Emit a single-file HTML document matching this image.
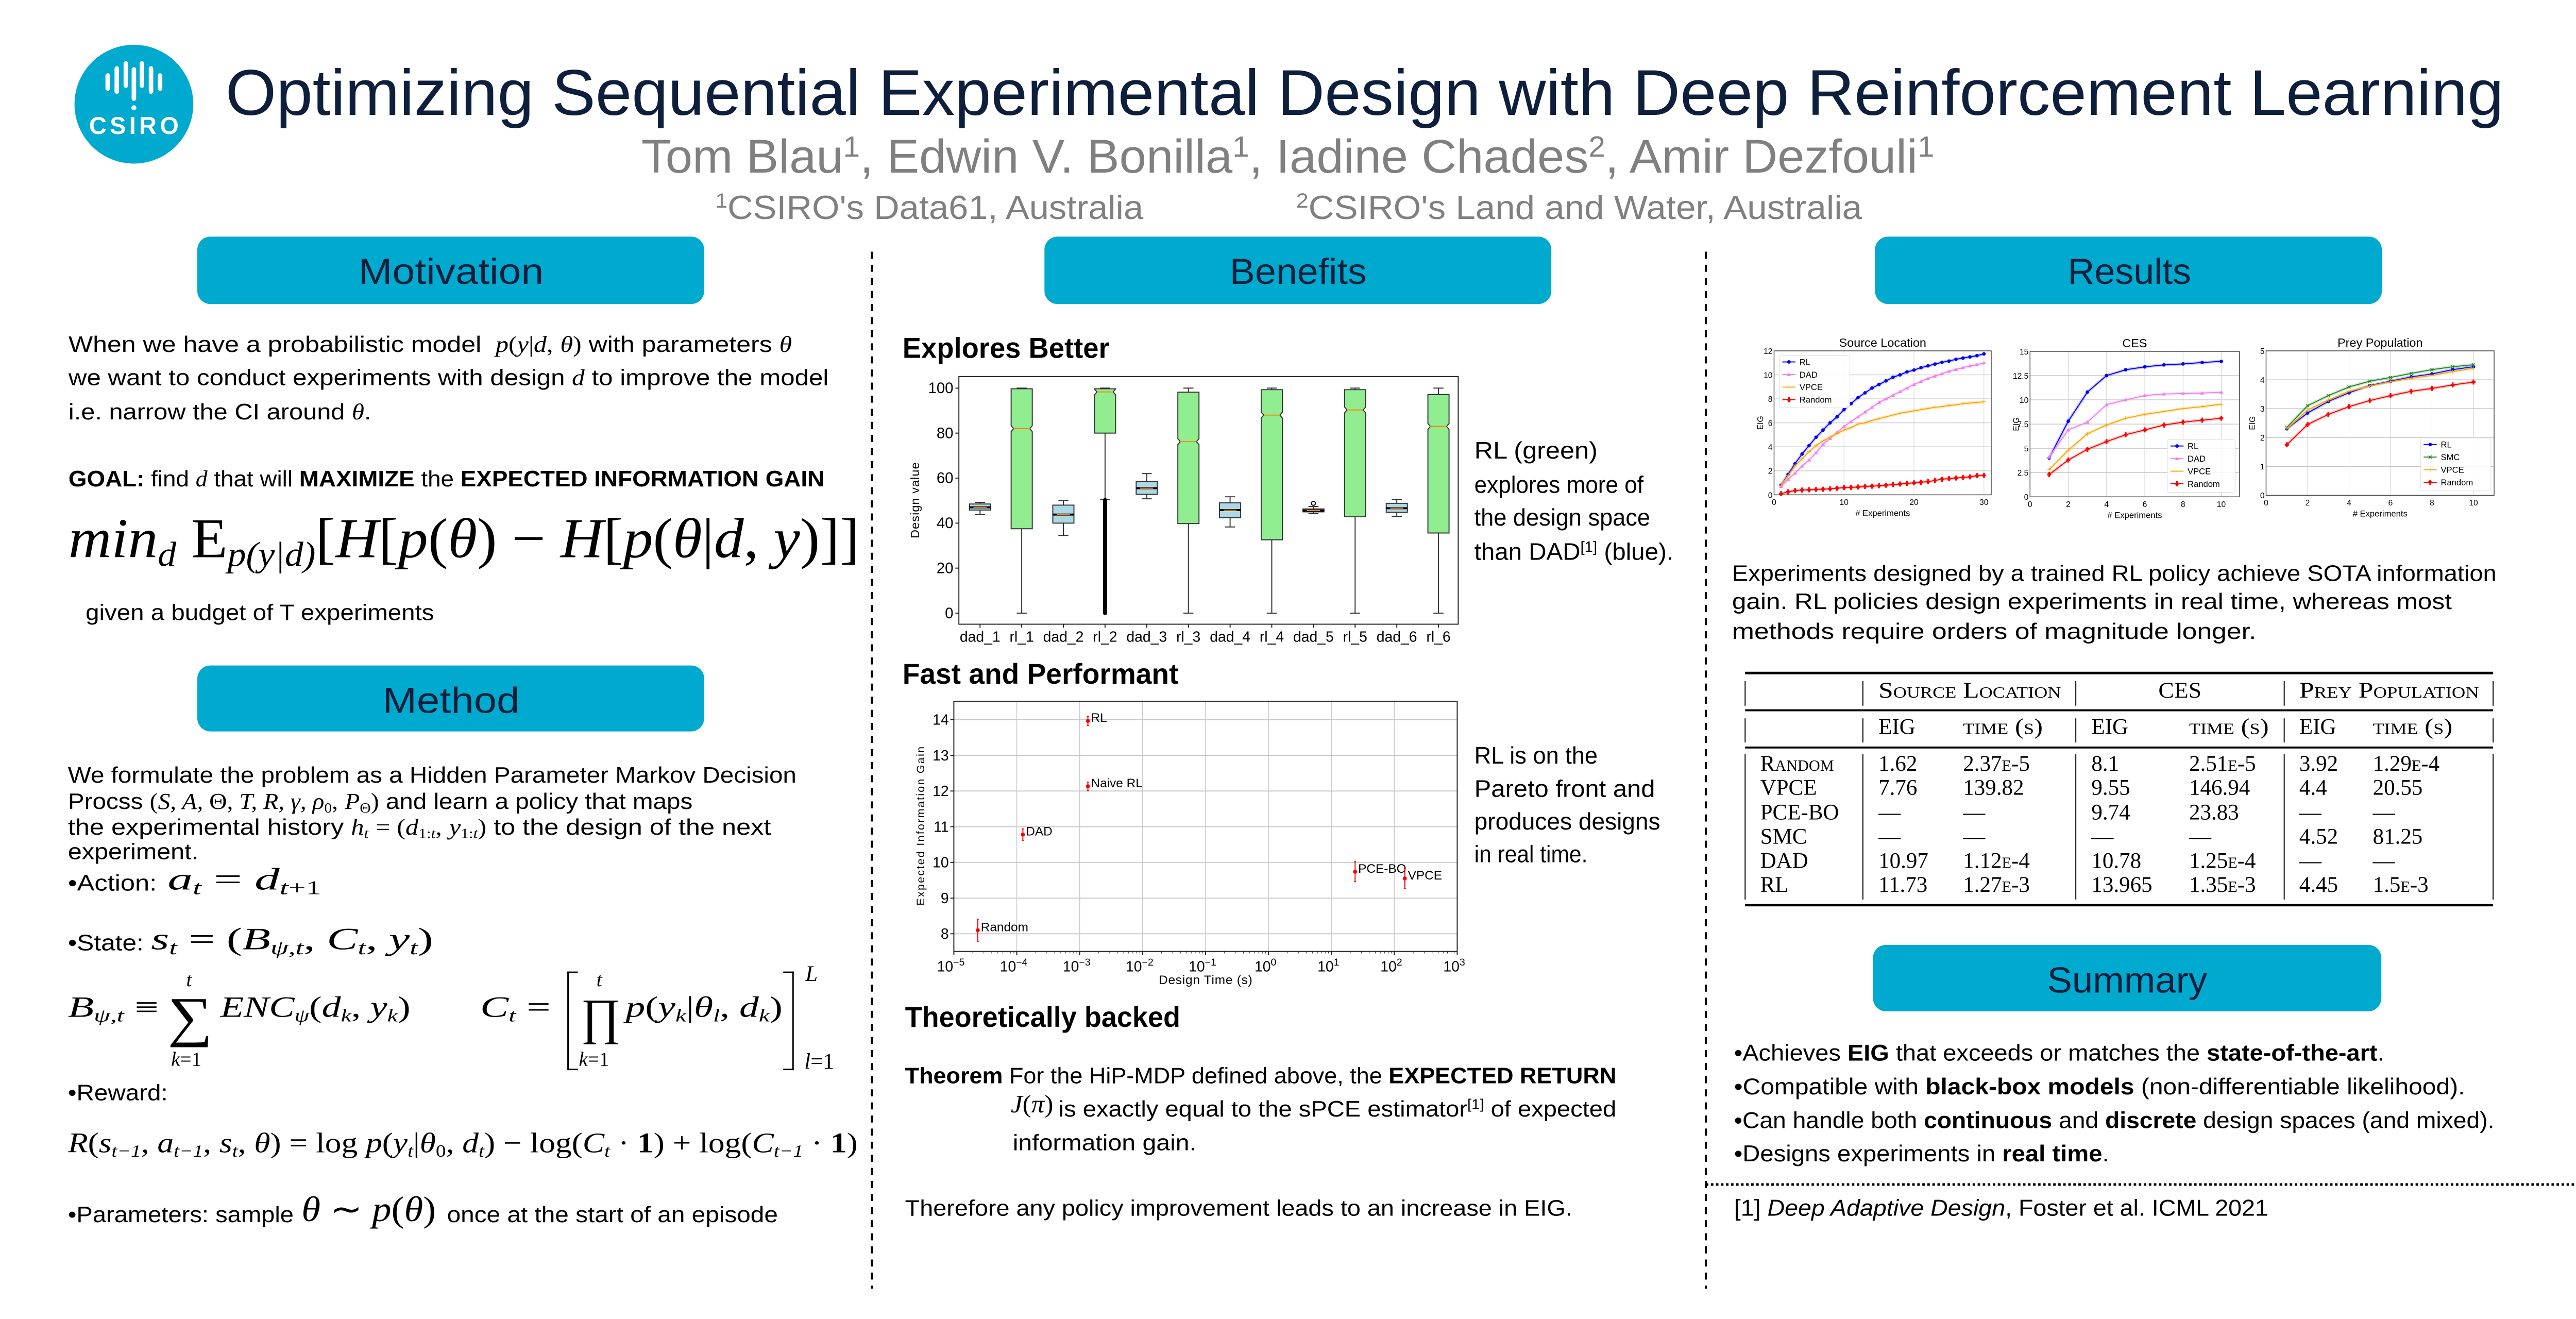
<!DOCTYPE html>
<html><head><meta charset="utf-8"><title>Optimizing Sequential Experimental Design with Deep Reinforcement Learning</title>
<style>
html,body{margin:0;padding:0;}
body{width:5120px;height:2560px;position:relative;overflow:hidden;background:#fff;font-family:"Liberation Sans",sans-serif;color:#000;}
#wrap{position:absolute;left:0;top:0;width:5120px;height:2560px;transform:scale(0.977);transform-origin:0 0;}
.t{position:absolute;white-space:nowrap;line-height:1;display:inline-block;transform-origin:0 0;}
.m{font-family:"Liberation Serif",serif;font-style:italic;}
.r{font-family:"Liberation Serif",serif;font-style:normal;}
.hdr{position:absolute;background:#00a9ce;border-radius:26px;}
.sc{font-variant:small-caps;}
sub{font-size:62%;vertical-align:-0.25em;line-height:0;}
sup{font-size:62%;vertical-align:0.55em;line-height:0;}
.tb{font-family:"Liberation Serif",serif;}
.brk{position:absolute;border:3px solid #000;}
</style></head>
<body>
<div id="wrap">

<svg width="5120" height="2560" style="position:absolute;left:0;top:0">
  <g>
    <circle cx="266" cy="207" r="118" fill="#00a9ce"/>
    <g stroke="#fff" stroke-width="9" stroke-linecap="round">
      <line x1="214" y1="150" x2="214" y2="176"/><line x1="232" y1="136" x2="232" y2="182"/>
      <line x1="250" y1="126" x2="250" y2="170"/><line x1="266" y1="138" x2="266" y2="196"/>
      <line x1="282" y1="126" x2="282" y2="170"/><line x1="300" y1="136" x2="300" y2="182"/>
      <line x1="318" y1="150" x2="318" y2="176"/>
    </g>
    <circle cx="266" cy="214" r="5" fill="#fff"/>
    <text x="266" y="266" font-family="Liberation Sans" font-weight="bold" font-size="48" fill="#fff" text-anchor="middle" textLength="178">CSIRO</text>
  </g>
  <g stroke="#000" stroke-width="4" stroke-dasharray="14 12">
    <line x1="1732" y1="500" x2="1732" y2="2640"/>
    <line x1="3389" y1="500" x2="3389" y2="2640"/>
  </g>
  <line x1="3389" y1="2353" x2="5300" y2="2353" stroke="#000" stroke-width="5" stroke-dasharray="5 5"/>
  <g stroke="#000">
    <line x1="3467" y1="1337" x2="4953" y2="1337" stroke-width="5"/>
    <line x1="3467" y1="1411" x2="4953" y2="1411" stroke-width="4"/>
    <line x1="3467" y1="1485" x2="4953" y2="1485" stroke-width="4"/>
    <line x1="3467" y1="1798" x2="4953" y2="1798" stroke-width="5"/>
    <g stroke-width="2">
      <line x1="3467" y1="1353" x2="3467" y2="1402"/><line x1="3701" y1="1353" x2="3701" y2="1402"/><line x1="4124" y1="1353" x2="4124" y2="1402"/><line x1="4538" y1="1353" x2="4538" y2="1402"/><line x1="4953" y1="1353" x2="4953" y2="1402"/>
      <line x1="3467" y1="1427" x2="3467" y2="1475"/><line x1="3701" y1="1427" x2="3701" y2="1475"/><line x1="4124" y1="1427" x2="4124" y2="1475"/><line x1="4538" y1="1427" x2="4538" y2="1475"/><line x1="4953" y1="1427" x2="4953" y2="1475"/>
      <line x1="3467" y1="1498" x2="3467" y2="1787"/><line x1="3701" y1="1498" x2="3701" y2="1787"/><line x1="4124" y1="1498" x2="4124" y2="1787"/><line x1="4538" y1="1498" x2="4538" y2="1787"/><line x1="4953" y1="1498" x2="4953" y2="1787"/>
    </g>
  </g>
  <g id="boxplot"></g>
  <g id="pareto"></g>
  <g id="res1"></g>
  <g id="res2"></g>
  <g id="res3"></g>
</svg>

<!-- header -->
<div class="t" style="left:448px;font-size:128px;color:#0d1f3c" data-w="4526" data-b="230">Optimizing Sequential Experimental Design with Deep Reinforcement Learning</div>
<div class="t" style="left:1274px;font-size:94px;color:#808080" data-w="2569" data-b="344">Tom Blau<sup>1</sup>, Edwin V. Bonilla<sup>1</sup>, Iadine Chades<sup>2</sup>, Amir Dezfouli<sup>1</sup></div>
<div class="t" style="left:1421px;font-size:66px;color:#808080" data-w="850" data-b="435"><sup>1</sup>CSIRO's Data61, Australia</div>
<div class="t" style="left:2575px;font-size:66px;color:#808080" data-w="1124" data-b="435"><sup>2</sup>CSIRO's Land and Water, Australia</div>

<!-- section headers -->
<div class="hdr" style="left:392px;top:470px;width:1007px;height:134px"></div>
<div class="t" style="left:712px;font-size:72px;color:#0d1f3c" data-w="368" data-b="565">Motivation</div>
<div class="hdr" style="left:2075px;top:470px;width:1007px;height:134px"></div>
<div class="t" style="left:2443px;font-size:72px;color:#0d1f3c" data-w="272" data-b="565">Benefits</div>
<div class="hdr" style="left:3725px;top:470px;width:1007px;height:134px"></div>
<div class="t" style="left:4108px;font-size:72px;color:#0d1f3c" data-w="245" data-b="565">Results</div>
<div class="hdr" style="left:392px;top:1322px;width:1007px;height:131px"></div>
<div class="t" style="left:760px;font-size:72px;color:#0d1f3c" data-w="272" data-b="1417">Method</div>
<div class="hdr" style="left:3721px;top:1877px;width:1010px;height:132px"></div>
<div class="t" style="left:4067px;font-size:72px;color:#0d1f3c" data-w="318" data-b="1973">Summary</div>

<!-- motivation -->
<div class="t" style="left:136px;font-size:45px" data-w="1438" data-b="699">When we have a probabilistic model &nbsp;<span class="m">p</span><span class="r">(</span><span class="m">y</span><span class="r">|</span><span class="m">d</span><span class="r">,</span> <span class="m">θ</span><span class="r">)</span> with parameters <span class="m">θ</span></div>
<div class="t" style="left:136px;font-size:45px" data-w="1510" data-b="765">we want to conduct experiments with design <span class="m">d</span> to improve the model</div>
<div class="t" style="left:136px;font-size:45px" data-w="601" data-b="833">i.e. narrow the CI around <span class="m">θ</span>.</div>
<div class="t" style="left:136px;font-size:45px" data-w="1502" data-b="966"><b>GOAL:</b> find <span class="m">d</span> that will <b>MAXIMIZE</b> the <b>EXPECTED INFORMATION GAIN</b></div>
<div class="t m" style="left:136px;font-size:112px" data-w="1572" data-b="1109">min<sub>d</sub> <span class="r">E</span><sub>p(y|d)</sub><span class="r">[</span>H<span class="r">[</span>p<span class="r">(</span>θ<span class="r">) − </span>H<span class="r">[</span>p<span class="r">(</span>θ<span class="r">|</span>d<span class="r">,</span> y<span class="r">)]]</span></div>
<div class="t" style="left:170px;font-size:45px" data-w="692" data-b="1232">given a budget of T experiments</div>

<!-- method -->
<div class="t" style="left:135px;font-size:45px" data-w="1447" data-b="1555">We formulate the problem as a Hidden Parameter Markov Decision</div>
<div class="t" style="left:135px;font-size:45px" data-w="1241" data-b="1607">Procss <span class="r">(</span><span class="m">S, A, </span><span class="r">Θ, </span><span class="m">T, R, γ, ρ</span><sub class="r">0</sub><span class="r">,</span> <span class="m">P</span><sub class="r">Θ</sub><span class="r">)</span> and learn a policy that maps</div>
<div class="t" style="left:135px;font-size:45px" data-w="1397" data-b="1658">the experimental history <span class="m">h<sub>t</sub></span> <span class="r">= (</span><span class="m">d</span><sub class="r">1:<i>t</i></sub><span class="r">,</span> <span class="m">y</span><sub class="r">1:<i>t</i></sub><span class="r">)</span> to the design of the next</div>
<div class="t" style="left:135px;font-size:45px" data-w="259" data-b="1707">experiment.</div>
<div class="t" style="left:135px;font-size:45px" data-w="176" data-b="1769">•Action:</div>
<div class="t m" style="left:333px;font-size:62px" data-w="305" data-b="1769">a<sub>t</sub> <span class="r">=</span> d<sub>t<span class="r">+1</span></sub></div>
<div class="t" style="left:135px;font-size:45px" data-w="150" data-b="1888">•State:</div>
<div class="t m" style="left:300px;font-size:62px" data-w="560" data-b="1888">s<sub>t</sub> <span class="r">= (</span>B<sub>ψ,t</sub><span class="r">,</span> C<sub>t</sub><span class="r">,</span> y<sub>t</sub><span class="r">)</span></div>
<div class="t m" style="left:135px;font-size:58px" data-w="180" data-b="2021">B<sub>ψ,t</sub> <span class="r">≡</span></div>
<div class="t r" style="left:333px;font-size:110px" data-w="89" data-b="2058">∑</div>
<div class="t m" style="left:370px;font-size:40px" data-b="1960">t</div>
<div class="t m" style="left:340px;font-size:40px" data-b="2118">k<span class="r">=1</span></div>
<div class="t m" style="left:438px;font-size:58px" data-w="378" data-b="2021">ENC<sub>ψ</sub><span class="r">(</span>d<sub>k</sub><span class="r">,</span> y<sub>k</sub><span class="r">)</span></div>
<div class="t m" style="left:954px;font-size:58px" data-w="140" data-b="2021">C<sub>t</sub> <span class="r">=</span></div>
<div class="brk" style="left:1127px;top:1930px;width:18px;height:190px;border-right:none"></div>
<div class="t r" style="left:1154px;font-size:100px" data-w="78" data-b="2055">∏</div>
<div class="t m" style="left:1185px;font-size:40px" data-b="1960">t</div>
<div class="t m" style="left:1150px;font-size:40px" data-b="2118">k<span class="r">=1</span></div>
<div class="t m" style="left:1243px;font-size:58px" data-w="311" data-b="2021">p<span class="r">(</span>y<sub>k</sub><span class="r">|</span>θ<sub>l</sub><span class="r">,</span> d<sub>k</sub><span class="r">)</span></div>
<div class="brk" style="left:1556px;top:1930px;width:18px;height:190px;border-left:none"></div>
<div class="t m" style="left:1600px;font-size:44px" data-b="1950">L</div>
<div class="t m" style="left:1598px;font-size:44px" data-b="2124">l<span class="r">=1</span></div>
<div class="t" style="left:135px;font-size:45px" data-w="198" data-b="2186">•Reward:</div>
<div class="t m" style="left:135px;font-size:56px" data-w="1569" data-b="2291">R<span class="r">(</span>s<sub>t−1</sub><span class="r">,</span> a<sub>t−1</sub><span class="r">,</span> s<sub>t</sub><span class="r">,</span> θ<span class="r">) = log </span>p<span class="r">(</span>y<sub>t</sub><span class="r">|</span>θ<sub class="r">0</sub><span class="r">,</span> d<sub>t</sub><span class="r">) − log(</span>C<sub>t</sub><span class="r"> · <b>1</b>) + log(</span>C<sub>t−1</sub><span class="r"> · <b>1</b>)</span></div>
<div class="t" style="left:135px;font-size:45px" data-w="448" data-b="2428">•Parameters: sample</div>
<div class="t m" style="left:599px;font-size:70px" data-w="267" data-b="2428">θ <span class="r">∼</span> p<span class="r">(</span>θ<span class="r">)</span></div>
<div class="t" style="left:888px;font-size:45px" data-w="657" data-b="2428">once at the start of an episode</div>

<!-- benefits -->
<div class="t" style="left:1793px;font-size:57px;font-weight:bold" data-w="411" data-b="712">Explores Better</div>
<div class="t" style="left:2929px;font-size:47px" data-w="245" data-b="911">RL (green)</div>
<div class="t" style="left:2929px;font-size:47px" data-w="336" data-b="979">explores more of</div>
<div class="t" style="left:2929px;font-size:47px" data-w="349" data-b="1044">the design space</div>
<div class="t" style="left:2929px;font-size:47px" data-w="395" data-b="1112">than DAD<sup>[1]</sup> (blue).</div>
<div class="t" style="left:1793px;font-size:57px;font-weight:bold" data-w="548" data-b="1359">Fast and Performant</div>
<div class="t" style="left:2929px;font-size:47px" data-w="245" data-b="1517">RL is on the</div>
<div class="t" style="left:2929px;font-size:47px" data-w="359" data-b="1583">Pareto front and</div>
<div class="t" style="left:2929px;font-size:47px" data-w="369" data-b="1648">produces designs</div>
<div class="t" style="left:2929px;font-size:47px" data-w="225" data-b="1713">in real time.</div>
<div class="t" style="left:1798px;font-size:57px;font-weight:bold" data-w="547" data-b="2041">Theoretically backed</div>
<div class="t" style="left:1798px;font-size:45px" data-w="1413" data-b="2152"><b>Theorem</b> For the HiP-MDP defined above, the <b>EXPECTED RETURN</b></div>
<div class="t m" style="left:2008px;font-size:50px" data-w="85" data-b="2210">J<span class="r">(</span>π<span class="r">)</span></div>
<div class="t" style="left:2103px;font-size:45px" data-w="1108" data-b="2218">is exactly equal to the sPCE estimator<sup>[1]</sup> of expected</div>
<div class="t" style="left:2012px;font-size:45px" data-w="365" data-b="2285">information gain.</div>
<div class="t" style="left:1798px;font-size:45px" data-w="1326" data-b="2415">Therefore any policy improvement leads to an increase in EIG.</div>

<!-- results -->
<div class="t" style="left:3441px;font-size:45px" data-w="1519" data-b="1154">Experiments designed by a trained RL policy achieve SOTA information</div>
<div class="t" style="left:3441px;font-size:45px" data-w="1430" data-b="1210">gain. RL policies design experiments in real time, whereas most</div>
<div class="t" style="left:3441px;font-size:45px" data-w="1042" data-b="1269">methods require orders of magnitude longer.</div>

<!-- table -->
<div class="t tb sc" style="left:3732px;font-size:44px" data-w="362" data-b="1387">Source Location</div>
<div class="t tb" style="left:4288px;font-size:44px" data-w="86" data-b="1387">CES</div>
<div class="t tb sc" style="left:4568px;font-size:44px" data-w="357" data-b="1387">Prey Population</div>
<div class="t tb" style="left:3732px;font-size:44px" data-b="1459">EIG</div>
<div class="t tb sc" style="left:3900px;font-size:44px" data-w="158" data-b="1459">time (s)</div>
<div class="t tb" style="left:4155px;font-size:44px" data-b="1459">EIG</div>
<div class="t tb sc" style="left:4349px;font-size:44px" data-w="158" data-b="1459">time (s)</div>
<div class="t tb" style="left:4568px;font-size:44px" data-b="1459">EIG</div>
<div class="t tb sc" style="left:4714px;font-size:44px" data-w="158" data-b="1459">time (s)</div>
<div id="tbody"></div>

<!-- summary -->
<div class="t" style="left:3445px;font-size:46px" data-w="1292" data-b="2107">•Achieves <b>EIG</b> that exceeds or matches the <b>state-of-the-art</b>.</div>
<div class="t" style="left:3445px;font-size:46px" data-w="1452" data-b="2174">•Compatible with <b>black-box models</b> (non-differentiable likelihood).</div>
<div class="t" style="left:3445px;font-size:46px" data-w="1510" data-b="2241">•Can handle both <b>continuous</b> and <b>discrete</b> design spaces (and mixed).</div>
<div class="t" style="left:3445px;font-size:46px" data-w="745" data-b="2307">•Designs experiments in <b>real time</b>.</div>
<div class="t" style="left:3445px;font-size:46px" data-w="1062" data-b="2415">[1] <i>Deep Adaptive Design</i>, Foster et al. ICML 2021</div>
</div>

<script>
// ---------- table data ----------
const tableMethods = ['Random','VPCE','PCE-BO','SMC','DAD','RL'];
const tableCells = [
  ['1.62','2.37e-5','8.1','2.51e-5','3.92','1.29e-4'],
  ['7.76','139.82','9.55','146.94','4.4','20.55'],
  ['—','—','9.74','23.83','—','—'],
  ['—','—','—','—','4.52','81.25'],
  ['10.97','1.12e-4','10.78','1.25e-4','—','—'],
  ['11.73','1.27e-3','13.965','1.35e-3','4.45','1.5e-3']
];
// ---------- boxplot data ----------
const boxCats = ['dad_1','rl_1','dad_2','rl_2','dad_3','rl_3','dad_4','rl_4','dad_5','rl_5','dad_6','rl_6'];
const whiskLo = [43.8,0,34.5,50.4,50.8,0,38.3,0,44.2,0,43,0];
const q1s     = [45.8,37.5,40,80,52.8,39.8,42.4,32.6,45,42.8,44.8,35.6];
const medians = [47,82,43.8,98.3,55.5,76.2,45.8,88,45.6,90.3,46.6,83];
const q3s     = [48.5,99.7,48,99.7,58.5,98.2,49,99.3,46.3,99.3,48.8,97.1];
const whiskHi = [49.2,100,50,100,62,100,51.7,100,47.4,100,50.5,100];
const flierBands = [null,null,null,[0,50.3],null,null,null,null,null,null,null,null];
const outliers = [[],[],[],[],[],[],[],[],[48.8],[],[],[]];
const boxYTicks = [0,20,40,60,80,100];
// ---------- pareto data ----------
const paretoMethods = ['RL','Naive RL','DAD','Random','PCE-BO','VPCE'];
const paretoTimes = [1.35e-3,1.35e-3,1.25e-4,2.4e-5,23.83,146.94];
const paretoEIG = [13.965,12.13,10.78,8.1,9.74,9.55];
const paretoErr = [0.13,0.12,0.16,0.31,0.28,0.28];
const paretoYTicks = [8,9,10,11,12,13,14];
const paretoXExps = [-5,-4,-3,-2,-1,0,1,2,3];
// ---------- results curves ----------
const srcRL = [0.8,1.7,2.6,3.4,4.1,4.8,5.4,6.0,6.5,7.1,7.6,8.1,8.5,8.9,9.2,9.5,9.8,10.0,10.25,10.4,10.6,10.75,10.9,11.05,11.15,11.3,11.4,11.5,11.6,11.75];
const srcDAD = [0.7,1.3,1.8,2.4,2.9,3.5,4.2,4.7,5.2,5.7,6.1,6.5,6.9,7.3,7.7,8.0,8.3,8.6,8.9,9.2,9.45,9.7,9.9,10.1,10.3,10.45,10.6,10.75,10.85,11.0];
const srcVPCE = [0.8,1.6,2.4,3.0,3.6,4.1,4.5,4.8,5.1,5.4,5.6,5.9,6.0,6.2,6.35,6.5,6.65,6.8,6.9,7.0,7.1,7.2,7.3,7.35,7.45,7.5,7.6,7.65,7.7,7.76];
const srcRandom = [0.1,0.25,0.35,0.4,0.42,0.45,0.47,0.5,0.55,0.6,0.62,0.65,0.7,0.72,0.76,0.8,0.85,0.9,0.95,1.0,1.05,1.1,1.2,1.3,1.35,1.4,1.45,1.5,1.6,1.62];
const cesRL = [4.0,7.8,10.8,12.5,13.1,13.4,13.6,13.7,13.85,13.965];
const cesDAD = [4.1,6.9,7.7,9.5,10.0,10.45,10.6,10.65,10.7,10.78];
const cesVPCE = [2.8,4.8,6.5,7.4,8.1,8.5,8.8,9.1,9.3,9.55];
const cesRandom = [2.3,3.8,4.9,5.7,6.4,6.9,7.4,7.7,7.9,8.1];
const preyRL = [2.3,2.85,3.25,3.55,3.8,3.95,4.1,4.2,4.35,4.45];
const preySMC = [2.35,3.1,3.45,3.75,3.95,4.08,4.22,4.35,4.45,4.52];
const preyVPCE = [2.3,2.95,3.3,3.6,3.78,3.93,4.05,4.15,4.28,4.4];
const preyRandom = [1.75,2.45,2.8,3.07,3.28,3.45,3.6,3.7,3.82,3.92];
const srcXTicks = [0,10,20,30], srcYTicks = [0,2,4,6,8,10,12];
const cesXTicks = [0,2,4,6,8,10], cesYTicks = [0,2.5,5,7.5,10,12.5,15];
const preyXTicks = [0,2,4,6,8,10], preyYTicks = [0,1,2,3,4,5];

const NS = 'http://www.w3.org/2000/svg';
function el(tag, attrs, parent){ const e=document.createElementNS(NS,tag); for(const k in attrs) e.setAttribute(k,attrs[k]); parent.appendChild(e); return e; }
const FF = '"Liberation Sans", sans-serif';

// ---------- table body ----------
(function(){
  const tb = document.getElementById('tbody');
  const colX = [3732,3900,4155,4349,4568,4714];
  const baseY = [1532,1580,1629,1677,1725,1773];
  tableMethods.forEach((m,i)=>{
    const d = document.createElement('div');
    d.className = 't tb' + (m==='Random' ? ' sc' : '');
    d.style.left = '3497px'; d.style.fontSize = '44px'; d.dataset.b = baseY[i];
    d.textContent = m;
    
    
    tb.appendChild(d);
    tableCells[i].forEach((v,j)=>{
      const c = document.createElement('div');
      c.className = 't tb';
      c.style.left = colX[j]+'px'; c.style.fontSize = '44px'; c.dataset.b = baseY[i];
      c.innerHTML = v.replace(/e(-\d)/, '<span class="sc">e</span>$1');
      
      
      tb.appendChild(c);
    });
  });
})();

// ---------- boxplot ----------
(function(){
  const g = document.getElementById('boxplot');
  const yB = v => 1218 - v*4.47;
  const xB = i => 1947 + i*82.8;
  const hw = 21;
  const ax = el('rect',{x:1905,y:748,width:992,height:492,fill:'none',stroke:'#222','stroke-width':2},g);
  
  
  boxYTicks.forEach(v=>{
    const tk = el('line',{x1:1898,y1:yB(v),x2:1905,y2:yB(v),stroke:'#222','stroke-width':2},g);
    
    
    const tl = el('text',{x:1894,y:yB(v)+10,'text-anchor':'end','font-size':30,'font-family':FF},g);
    tl.textContent = v;
    
    
  });
  const yl = el('text',{transform:'translate(1826,994) rotate(-90)','text-anchor':'middle','font-size':24,'font-family':FF,textLength:151},g);
  yl.textContent = 'Design value';
  
  
  boxCats.forEach((c,i)=>{
    const x = xB(i), rl = c.startsWith('rl');
    const tk = el('line',{x1:x,y1:1240,x2:x,y2:1247,stroke:'#222','stroke-width':2},g);
    
    
    const tl = el('text',{x:x,y:1275,'text-anchor':'middle','font-size':29,'font-family':FF},g);
    tl.textContent = c;
    
    
    const wl = el('line',{x1:x,y1:yB(whiskLo[i]),x2:x,y2:yB(q1s[i]),stroke:'#333','stroke-width':2},g);
    
    
    const wh = el('line',{x1:x,y1:yB(q3s[i]),x2:x,y2:yB(whiskHi[i]),stroke:'#333','stroke-width':2},g);
    
    
    [whiskLo[i],whiskHi[i]].forEach(v=>{
      const cap = el('line',{x1:x-10,y1:yB(v),x2:x+10,y2:yB(v),stroke:'#333','stroke-width':2},g);
      
      
    });
    let box;
    if(rl){
      const n=1.3, ind=5;
      const pts=[[x-hw,yB(q1s[i])],[x+hw,yB(q1s[i])],[x+hw,yB(medians[i]-n)],[x+hw-ind,yB(medians[i])],[x+hw,yB(Math.min(medians[i]+n,q3s[i]))],[x+hw,yB(q3s[i])],[x-hw,yB(q3s[i])],[x-hw,yB(Math.min(medians[i]+n,q3s[i]))],[x-hw+ind,yB(medians[i])],[x-hw,yB(medians[i]-n)]];
      box = el('polygon',{points:pts.map(p=>p.join(',')).join(' '),fill:'#90ee90',stroke:'#333','stroke-width':2},g);
    } else {
      box = el('rect',{x:x-hw,y:yB(q3s[i]),width:2*hw,height:yB(q1s[i])-yB(q3s[i]),fill:'#add8e6',stroke:'#333','stroke-width':2},g);
      const mb = el('line',{x1:x-hw,y1:yB(medians[i]),x2:x+hw,y2:yB(medians[i]),stroke:'#000','stroke-width':4},g);
      
      
    }
    
    
    const md = el('line',{x1:x-hw+(rl?5:8),y1:yB(medians[i]),x2:x+hw-(rl?5:8),y2:yB(medians[i]),stroke:'#ff7f0e','stroke-width':2},g);
    
    
    if(flierBands[i]){
      const b = flierBands[i];
      const fb = el('rect',{x:x-4,y:yB(b[1])-4,width:8,height:yB(b[0])-yB(b[1])+8,rx:4,fill:'#000'},g);
      
      
    }
    outliers[i].forEach(v=>{
      const o = el('circle',{cx:x,cy:yB(v),r:4,fill:'none',stroke:'#000','stroke-width':2},g);
      
      
    });
  });
})();

// ---------- pareto ----------
(function(){
  const g = document.getElementById('pareto');
  const X0=1895, X1=2895, Y0=1393, Y1=1890;
  const xS = t => X0 + (Math.log10(t)+5)*125;
  const yS = v => 1855 - (v-8)*70.9;
  paretoXExps.forEach(e=>{
    const gl = el('line',{x1:xS(Math.pow(10,e)),y1:Y0,x2:xS(Math.pow(10,e)),y2:Y1,stroke:'#c8c8c8','stroke-width':1.5},g);
    
    
  });
  paretoYTicks.forEach(v=>{
    const gl = el('line',{x1:X0,y1:yS(v),x2:X1,y2:yS(v),stroke:'#c8c8c8','stroke-width':2},g);
    
    
    const tk = el('line',{x1:X0-7,y1:yS(v),x2:X0,y2:yS(v),stroke:'#222','stroke-width':2},g);
    
    
    const tl = el('text',{x:X0-10,y:yS(v)+10,'text-anchor':'end','font-size':29,'font-family':FF},g);
    tl.textContent = v;
    
    
  });
  const fr = el('rect',{x:X0,y:Y0,width:X1-X0,height:Y1-Y0,fill:'none',stroke:'#222','stroke-width':2},g);
  
  
  paretoXExps.forEach(e=>{
    const x = xS(Math.pow(10,e));
    const tk = el('line',{x1:x,y1:Y1,x2:x,y2:Y1+7,stroke:'#222','stroke-width':2},g);
    
    
    if(e<3){ for(let m=2;m<10;m++){
      const mt = el('line',{x1:xS(m*Math.pow(10,e)),y1:Y1,x2:xS(m*Math.pow(10,e)),y2:Y1+4,stroke:'#222','stroke-width':1},g);
      
      
    }}
    const tl = el('text',{x:x-6,y:Y1+40,'text-anchor':'middle','font-size':29,'font-family':FF},g);
    
    
    const t1 = el('tspan',{},tl); t1.textContent='10';
    const t2 = el('tspan',{dy:-12,'font-size':20},tl); t2.textContent=(e<0?'−':'')+Math.abs(e);
  });
  const xl = el('text',{x:2395,y:1955,'text-anchor':'middle','font-size':25,'font-family':FF,textLength:186},g);
  xl.textContent='Design Time (s)';
  
  
  const yl = el('text',{transform:'translate(1836,1641) rotate(-90)','text-anchor':'middle','font-size':22,'font-family':FF,textLength:316},g);
  yl.textContent='Expected Information Gain';
  
  
  paretoMethods.forEach((m,i)=>{
    const x=xS(paretoTimes[i]), y=yS(paretoEIG[i]);
    const eb = el('line',{x1:x,y1:yS(paretoEIG[i]-paretoErr[i]),x2:x,y2:yS(paretoEIG[i]+paretoErr[i]),stroke:'#f00','stroke-width':2},g);
    
    
    [paretoEIG[i]-paretoErr[i],paretoEIG[i]+paretoErr[i]].forEach(v=>{
      const c = el('line',{x1:x-2,y1:yS(v),x2:x+2,y2:yS(v),stroke:'#f00','stroke-width':2},g);
      
      
    });
    const p = el('circle',{cx:x,cy:y,r:4,fill:'#f00'},g);
    
    
    const lb = el('text',{x:x+6,y:y+2,'font-size':25,'font-family':FF},g);
    lb.textContent=m;
    
    
  });
})();

// ---------- results line charts ----------
function lineChart(gid, cfg){
  const g = document.getElementById(gid);
  const xS = v => cfg.x0 + v*cfg.kx;
  const yS = v => cfg.y0 - v*cfg.ky;
  cfg.xt.forEach(v=>{
    const gl = el('line',{x1:xS(v),y1:cfg.top,x2:xS(v),y2:cfg.y0,stroke:'#d0d0d0','stroke-width':1},g);
    
    
    const tl = el('text',{x:xS(v),y:cfg.y0+20,'text-anchor':'middle','font-size':16,'font-family':FF},g);
    tl.textContent=v;
    
    
  });
  cfg.yt.forEach(v=>{
    const gl = el('line',{x1:cfg.x0,y1:yS(v),x2:cfg.right,y2:yS(v),stroke:'#c8c8c8','stroke-width':1.5},g);
    
    
    const tl = el('text',{x:cfg.x0-3,y:yS(v)+6,'text-anchor':'end','font-size':16,'font-family':FF},g);
    tl.textContent=v;
    
    
  });
  const fr = el('rect',{x:cfg.x0,y:cfg.top,width:cfg.right-cfg.x0,height:cfg.y0-cfg.top,fill:'none',stroke:'#444','stroke-width':1.5},g);
  
  
  const tt = el('text',{x:(cfg.x0+cfg.right)/2,y:cfg.top-8,'text-anchor':'middle','font-size':24,'font-family':FF},g);
  tt.textContent=cfg.title;
  
  
  const xl = el('text',{x:(cfg.x0+cfg.right)/2,y:cfg.y0+42,'text-anchor':'middle','font-size':17,'font-family':FF},g);
  xl.textContent='# Experiments';
  
  
  const yl = el('text',{transform:`translate(${cfg.x0-22},${(cfg.top+cfg.y0)/2}) rotate(-90)`,'text-anchor':'middle','font-size':16,'font-family':FF},g);
  yl.textContent='EIG';
  
  
  function marker(kind,x,y,col,parent){
    let m;
    if(kind==='o') m = el('circle',{cx:x,cy:y,r:3.5,fill:col},parent);
    else if(kind==='^') m = el('polygon',{points:`${x},${y-4} ${x-4},${y+3} ${x+4},${y+3}`,fill:col},parent);
    else if(kind==='|') m = el('path',{d:`M${x} ${y-4}V${y+4}M${x-4} ${y}H${x+4}`,stroke:col,'stroke-width':1},parent);
    else if(kind==='x') m = el('path',{d:`M${x-3} ${y-3}L${x+3} ${y+3}M${x-3} ${y+3}L${x+3} ${y-3}`,stroke:col,'stroke-width':1.5},parent);
    else m = el('path',{d:`M${x} ${y-5}V${y+5}M${x-4} ${y}H${x+4}`,stroke:col,'stroke-width':3.5},parent);
    
    
  }
  cfg.series.forEach(s=>{
    const pts = s.data.map((v,i)=>[xS(i+1),yS(v)]);
    const band = el('polyline',{points:pts.map(p=>p.join(',')).join(' '),fill:'none',stroke:s.col,'stroke-width':6,'stroke-opacity':0.2},g);
    
    
    const pl = el('polyline',{points:pts.map(p=>p.join(',')).join(' '),fill:'none',stroke:s.col,'stroke-width':2},g);
    
    
    pts.forEach(p=>marker(s.mk,p[0],p[1],s.col,g));
  });
  const lg = el('g',{},g);
  
  
  const lb = el('rect',{x:cfg.lx,y:cfg.ly,width:cfg.lw,height:cfg.lh,rx:4,fill:'#fff','fill-opacity':0.85,stroke:'#ddd','stroke-width':1},lg);
  
  
  cfg.series.forEach((s,i)=>{
    const y = cfg.ly + 13 + i*cfg.ls;
    const ln = el('line',{x1:cfg.lx+6,y1:y,x2:cfg.lx+32,y2:y,stroke:s.col,'stroke-width':2},lg);
    
    
    marker(s.mk,cfg.lx+19,y,s.col,lg);
    const t = el('text',{x:cfg.lx+40,y:y+6,'font-size':17,'font-family':FF},lg);
    t.textContent=s.name;
    
    
  });
}
lineChart('res1',{title:'Source Location',x0:3524.5,kx:13.9,right:3956,y0:983,ky:23.83,top:697,xt:srcXTicks,yt:srcYTicks,lx:3535,ly:706,lw:140,lh:104,ls:25,
  series:[{name:'RL',data:srcRL,col:'#0000ff',mk:'o'},{name:'DAD',data:srcDAD,col:'#ee82ee',mk:'^'},{name:'VPCE',data:srcVPCE,col:'#ffa500',mk:'|'},{name:'Random',data:srcRandom,col:'#ff0000',mk:'+'}]});
lineChart('res2',{title:'CES',x0:4033,kx:38,right:4449,y0:987,ky:19.27,top:698,xt:cesXTicks,yt:cesYTicks,lx:4306,ly:873,lw:135,lh:105,ls:25,
  series:[{name:'RL',data:cesRL,col:'#0000ff',mk:'o'},{name:'DAD',data:cesDAD,col:'#ee82ee',mk:'^'},{name:'VPCE',data:cesVPCE,col:'#ffa500',mk:'|'},{name:'Random',data:cesRandom,col:'#ff0000',mk:'+'}]});
lineChart('res3',{title:'Prey Population',x0:4502,kx:41.2,right:4955,y0:984,ky:57.4,top:697,xt:preyXTicks,yt:preyYTicks,lx:4809,ly:870,lw:139,lh:105,ls:25,
  series:[{name:'RL',data:preyRL,col:'#0000ff',mk:'o'},{name:'SMC',data:preySMC,col:'#228b22',mk:'x'},{name:'VPCE',data:preyVPCE,col:'#ffa500',mk:'|'},{name:'Random',data:preyRandom,col:'#ff0000',mk:'+'}]});

// ---------- text placement: baseline + width fitting ----------
document.querySelectorAll('.t').forEach(e=>{
  const fs = parseFloat(e.style.fontSize);
  if(e.dataset.b) e.style.top = (parseFloat(e.dataset.b) - 0.85*fs) + 'px';
  if(e.dataset.w){
    const w = e.offsetWidth;
    if(w>0) e.style.transform = 'scaleX(' + (parseFloat(e.dataset.w)/w) + ')';
  }
});
</script>
</body></html>
